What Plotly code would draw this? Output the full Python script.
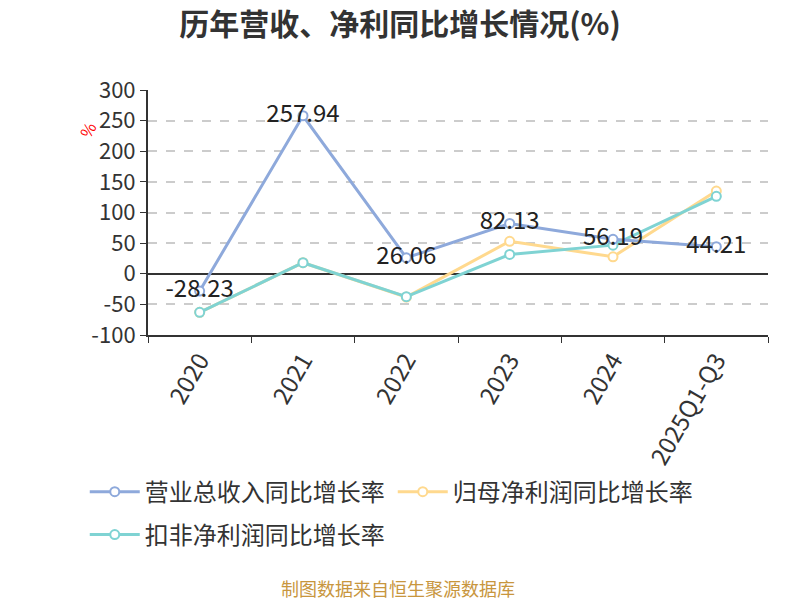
import plotly.graph_objects as go

categories = ["2020", "2021", "2022", "2023", "2024", "2025Q1-Q3"]
revenue = [-28.23, 257.94, 26.06, 82.13, 56.19, 44.21]
parent_profit = [-63, 18, -38, 53, 27.7, 135]
deducted_profit = [-63, 18, -37.5, 31.5, 46.7, 126.5]
revenue_labels = ["-28.23", "257.94", "26.06", "82.13", "56.19", "44.21"]
y_tick_values = [-100, -50, 0, 50, 100, 150, 200, 250, 300]
y_tick_labels = ["-100", "-50", "0", "50", "100", "150", "200", "250", "300"]

names = ["营业总收入同比增长率", "归母净利润同比增长率", "扣非净利润同比增长率"]
colors = ["#8EA9DB", "#FFD98E", "#7FD3D3"]

font_family = "Noto Sans CJK SC, Noto Sans, sans-serif"


def marker(c):
    return dict(symbol="circle", size=9, color="white", line=dict(color=c, width=2))


fig = go.Figure()
fig.add_trace(go.Scatter(
    x=categories, y=parent_profit, name=names[1], mode="lines+markers",
    line=dict(color=colors[1], width=3), marker=marker(colors[1]),
    legend="legend", legendrank=2,
))
fig.add_trace(go.Scatter(
    x=categories, y=deducted_profit, name=names[2], mode="lines+markers",
    line=dict(color=colors[2], width=3), marker=marker(colors[2]),
    legend="legend2",
))
fig.add_trace(go.Scatter(
    x=categories, y=revenue, name=names[0], mode="lines+markers+text",
    text=revenue_labels, textposition="middle center",
    textfont=dict(size=24, color="#222222"),
    line=dict(color=colors[0], width=3), marker=marker(colors[0]),
    legend="legend", legendrank=1,
))

legend_common = dict(orientation="h", xanchor="left", yanchor="middle",
                     font=dict(size=24, color="#333333"), entrywidth=243,
                     entrywidthmode="pixels", itemwidth=50, bgcolor="rgba(0,0,0,0)")

fig.update_layout(
    width=800, height=600,
    margin=dict(l=148, r=32, t=90, b=265),
    paper_bgcolor="white", plot_bgcolor="white",
    font=dict(family=font_family, color="#333333"),
    title=dict(text="<b>历年营收、净利同比增长情况(%)</b>", x=0.5, xanchor="center",
               y=0.96, yanchor="middle", font=dict(size=30, color="#333333")),
    showlegend=True,
    legend=dict(x=-0.102, y=-0.641, **legend_common),
    legend2=dict(x=-0.102, y=-0.816, **legend_common),
    xaxis=dict(
        type="category", range=[-0.5, 5.5], tickangle=-60,
        tickfont=dict(size=24, color="#333333"),
        showline=True, linecolor="#333333", linewidth=2,
        ticks="outside", ticklen=6, tickcolor="#333333", tickson="boundaries",
        showgrid=False, zeroline=False,
    ),
    yaxis=dict(
        range=[-100, 300], tickvals=y_tick_values, ticktext=y_tick_labels,
        tickfont=dict(size=22, color="#333333"),
        showline=True, linecolor="#333333", linewidth=2,
        ticks="outside", ticklen=6, tickcolor="#333333",
        showgrid=True, gridcolor="#CCCCCC", griddash="dash", gridwidth=1.5,
        zeroline=True, zerolinecolor="#333333", zerolinewidth=2,
    ),
    annotations=[
        dict(text="%", xref="paper", yref="paper", x=-0.097, y=0.84, showarrow=False,
             xanchor="center", yanchor="middle",
             textangle=-60, font=dict(size=16, color="#FF0000")),
        dict(text="制图数据来自恒生聚源数据库", xref="paper", yref="paper", x=0.403, y=-1.033,
             xanchor="center", yanchor="middle", showarrow=False,
             font=dict(size=18, color="#C8963E")),
    ],
)

fig.write_html("out.html", config={"displayModeBar": False},
               post_script="document.body.style.margin='0';")
